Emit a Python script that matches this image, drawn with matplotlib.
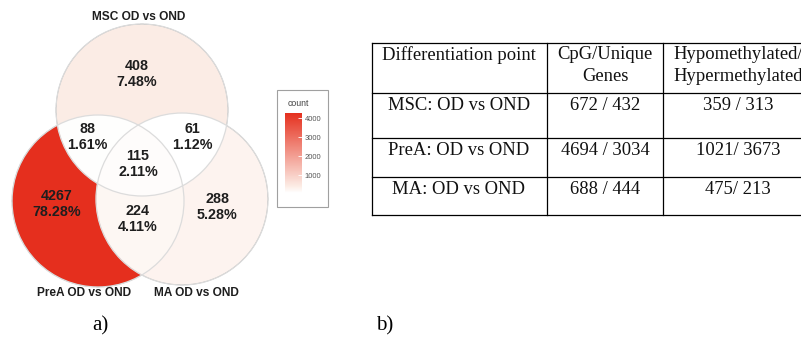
import numpy as np
import matplotlib
matplotlib.use("Agg")
import matplotlib.pyplot as plt
from matplotlib.colors import LinearSegmentedColormap, Normalize
from matplotlib.patches import Circle, Rectangle
from matplotlib.cm import ScalarMappable

# venn counts: region keys are membership (MSC, PreA, MA)
set_names = ["MSC OD vs OND", "PreA OD vs OND", "MA OD vs OND"]
region_keys = ["100", "110", "101", "111", "010", "011", "001"]
region_counts = [408, 88, 61, 115, 4267, 224, 288]

# table
table_header = ["Differentiation point", "CpG/Unique\nGenes", "Hypomethylated/\nHypermethylated"]
table_points = ["MSC: OD vs OND", "PreA: OD vs OND", "MA: OD vs OND"]
table_cpg = ["672 / 432", "4694 / 3034", "688 / 444"]
table_hypo = ["359 / 313", "1021/ 3673", "475/ 213"]

cbar_ticks = [1000, 2000, 3000, 4000]

total = sum(region_counts)
cmap = LinearSegmentedColormap.from_list(
    "wr", [(0, "#ffffff"), (0.08, "#fcede6"), (1, "#e5301e")])
norm = Normalize(vmin=min(region_counts), vmax=max(region_counts))

fig = plt.figure(figsize=(8.01, 3.37), dpi=100)
fig.patch.set_facecolor("white")
ax = fig.add_axes([0, 0, 1, 1])
ax.set_xlim(0, 801)
ax.set_ylim(337, 0)
ax.axis("off")

# circle layout in pixel space
centers = [(142, 110), (98, 201), (182, 199)]
r = 86

# fill regions on a fine grid
gx = np.linspace(0, 290, 1160)
gy = np.linspace(0, 310, 1240)
X, Y = np.meshgrid(gx, gy)
inside = [((X - cx) ** 2 + (Y - cy) ** 2) <= r ** 2 for cx, cy in centers]
vals = np.full(X.shape, np.nan)
for key, cnt in zip(region_keys, region_counts):
    m = np.ones(X.shape, bool)
    for i, ch in enumerate(key):
        m &= inside[i] if ch == "1" else ~inside[i]
    vals[m] = cnt
rgba = cmap(norm(vals))
rgba[np.isnan(vals), 3] = 0
ax.imshow(rgba, extent=(0, 290, 310, 0), origin="upper", interpolation="bilinear", zorder=1)
ax.set_xlim(0, 801)
ax.set_ylim(337, 0)

for cx, cy in centers:
    ax.add_patch(Circle((cx, cy), r, fill=False, edgecolor="#dcdcdc", lw=0.9, zorder=2))

# region labels
label_pos = {"100": (137, 74), "110": (87, 137), "101": (192, 137), "111": (138, 164),
             "010": (57, 204), "011": (138, 219), "001": (217, 207)}
for key, cnt in zip(region_keys, region_counts):
    x, y = label_pos[key]
    ax.text(x, y, f"{cnt}\n{cnt / total * 100:.2f}%", ha="center", va="center",
            fontsize=10.3, fontweight="bold", family="Liberation Sans", color="#1e1e1e",
            linespacing=1.25, zorder=3)

name_pos = [(139, 17), (84, 293), (196, 293)]
for name, (x, y) in zip(set_names, name_pos):
    ax.text(x, y, name, ha="center", va="center", fontsize=8.6, fontweight="bold",
            family="Liberation Sans", color="#1e1e1e")

# legend box + colorbar
ax.add_patch(Rectangle((277, 90), 51, 117, fill=False, edgecolor="#a0a0a0", lw=0.8))
ax.text(288, 103, "count", ha="left", va="center", fontsize=6.3,
        family="Liberation Sans", color="#444444")
cax = fig.add_axes([285 / 801, 1 - 193 / 337, 17 / 801, 80 / 337])
cb = fig.colorbar(ScalarMappable(norm=norm, cmap=cmap), cax=cax, ticks=cbar_ticks)
cb.outline.set_visible(False)
cax.tick_params(length=3, color="white", width=0.6, labelsize=5.5, labelcolor="#555555",
                pad=2, direction="in")
for t in cax.get_yticklabels():
    t.set_family("Liberation Sans")

# table
col_x = [372, 547, 663, 801]
row_y = [43, 93, 138, 177, 215]
for y in row_y:
    ax.plot([col_x[0], col_x[-1]], [y, y], color="black", lw=0.9)
for x in col_x[:3]:
    ax.plot([x, x], [row_y[0], row_y[-1]], color="black", lw=0.9)

tfont = dict(family="Liberation Serif", fontsize=13.4, color="#111111")
col_centers = [459, 605, 738]
for x, txt in zip(col_centers, table_header):
    ax.text(x, 46, txt, ha="center", va="top", linespacing=1.4, **tfont)
for i in range(3):
    y = row_y[i + 1] + 4
    for x, txt in zip(col_centers, [table_points[i], table_cpg[i], table_hypo[i]]):
        ax.text(x, y, txt, ha="center", va="top", **tfont)

ax.text(100, 326, "a)", ha="center", va="center", family="Liberation Serif", fontsize=15)
ax.text(385, 326, "b)", ha="center", va="center", family="Liberation Serif", fontsize=15)

fig.savefig("out.png", dpi=100, facecolor="white")
